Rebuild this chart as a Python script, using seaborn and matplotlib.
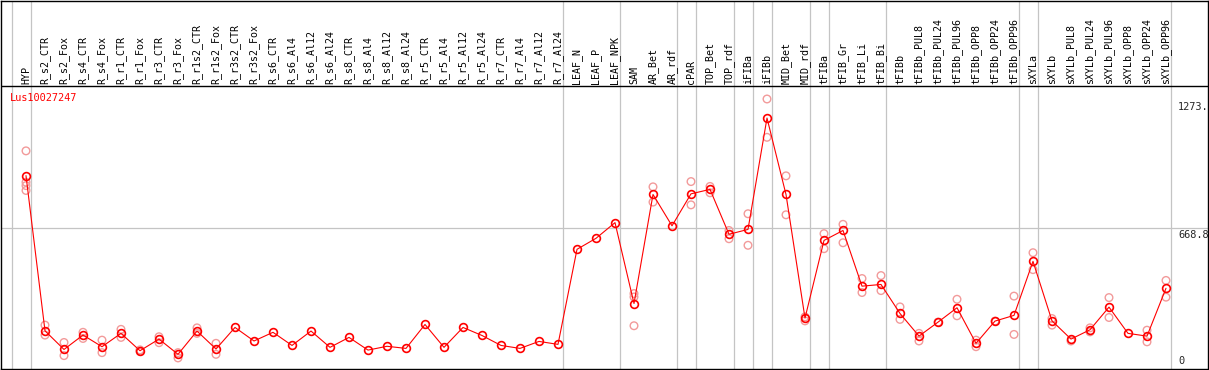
import numpy as np
import pandas as pd
import seaborn as sns
import matplotlib
matplotlib.use("Agg")
import matplotlib.pyplot as plt

# Образцы (подписи колонок)
samples = [
    "HYP", "R_s2_CTR", "R_s2_Fox", "R_s4_CTR", "R_s4_Fox", "R_r1_CTR", "R_r1_Fox",
    "R_r3_CTR", "R_r3_Fox", "R_r1s2_CTR", "R_r1s2_Fox", "R_r3s2_CTR", "R_r3s2_Fox",
    "R_s6_CTR", "R_s6_Al4", "R_s6_Al12", "R_s6_Al24", "R_s8_CTR", "R_s8_Al4",
    "R_s8_Al12", "R_s8_Al24", "R_r5_CTR", "R_r5_Al4", "R_r5_Al12", "R_r5_Al24",
    "R_r7_CTR", "R_r7_Al4", "R_r7_Al12", "R_r7_Al24", "LEAF_N", "LEAF_P", "LEAF_NPK",
    "SAM", "AR_Bet", "AR_rdf", "cPAR", "TOP_Bet", "TOP_rdf", "iFIBa", "iFIBb",
    "MID_Bet", "MID_rdf", "tFIBa", "tFIB_Gr", "tFIB_Li", "tFIB_Bi", "tFIBb",
    "tFIBb_PUL8", "tFIBb_PUL24", "tFIBb_PUL96", "tFIBb_OPP8", "tFIBb_OPP24", "tFIBb_OPP96",
    "sXYLa", "sXYLb", "sXYLb_PUL8", "sXYLb_PUL24", "sXYLb_PUL96", "sXYLb_OPP8",
    "sXYLb_OPP24", "sXYLb_OPP96",
]

# Средние значения экспрессии
means = [
    918, 185, 97, 165, 110, 173, 91, 146, 74, 184, 99, 201, 137, 178, 116,
    184, 107, 154, 94, 112, 102, 215, 107, 201, 163, 116, 102, 135, 121,
    570, 622, 696, 314, 829, 681, 832, 853, 641, 664, 1190, 829, 245,
    612, 659, 396, 404, 267, 160, 226, 294, 126, 231, 258,
    513, 232, 146, 190, 297, 173, 160, 386,
]

# Повторности (по образцу)
replicates = [
    [1035, 887, 871, 848], [212, 165], [130, 68], [178, 149], [141, 82], [192, 154],
    [95, 88], [157, 129], [82, 57], [199, 173], [126, 74], [], [], [], [], [], [], [],
    [], [], [], [], [], [], [], [], [], [], [], [], [], [],
    [361, 345, 209], [865, 793], [], [890, 780], [867, 837], [659, 620], [738, 589],
    [1280, 1099], [917, 733], [251, 232], [644, 573], [688, 601], [432, 366], [446, 375],
    [298, 239], [173, 137], [226], [334, 256], [141, 110], [231], [349, 168],
    [554, 474], [243, 212], [137], [199, 180], [342, 248], [], [188, 133], [423, 344],
]

# Индексы последних образцов в группах (вертикальные линии)
group_ends = [-1, 0, 28, 31, 34, 35, 37, 38, 39, 41, 42, 45, 52, 53, 60]

gene = "Lus10027247"
ytick_values = [1273, 668.8, 0]
ytick_labels = ["1273.", "668.8", "0"]

df = pd.DataFrame({"idx": np.arange(len(samples)), "value": means})
rep_x = [i for i, r in enumerate(replicates) for _ in r]
rep_y = [v for r in replicates for v in r]
df_rep = pd.DataFrame({"idx": rep_x, "value": rep_y})

sns.set_theme(style="white")
plt.rcParams["font.family"] = ["DejaVu Sans Mono", "DejaVu Sans"]

W, H = 1209, 370
fig = plt.figure(figsize=(W / 100, H / 100), dpi=100)
ax = fig.add_axes([1 / W, 1 / H, 1207 / W, 368 / H])

scale = 0.2123  # пикселей на единицу
ax.set_ylim((370 - 369) / scale, 370 / scale)
ax.set_xlim((1 - 26) / 19, (1208 - 26) / 19)

# Сетка
grid_c = "#c4c4c4"
for g in group_ends:
    ax.axvline(g + 0.24, color=grid_c, lw=0.9, zorder=0)
ax.axhline(668.8, color=grid_c, lw=0.9, zorder=0)
ax.axhline((370 - 85.5) / scale, color="black", lw=1.0, zorder=1)

# Повторности и средние
sns.scatterplot(data=df_rep, x="idx", y="value", marker="o", s=30,
                facecolor="none", edgecolor="#f29a9a", linewidth=1.0,
                ax=ax, zorder=2, legend=False)
sns.lineplot(data=df, x="idx", y="value", color="#ff0000", linewidth=0.8,
             marker="o", markersize=5.6, markerfacecolor="none",
             markeredgecolor="#ff0000", markeredgewidth=1.2, ax=ax, zorder=3)

# Подписи образцов
label_y = (370 - 83) / scale
for i, s in enumerate(samples):
    ax.text(i, label_y, s, rotation=90, ha="center", va="bottom",
            fontsize=7.2, color="black")

ax.text(-0.85, (370 - 97) / scale, gene, color="#ff0000", fontsize=7.4,
        ha="left", va="center")

# Подписи оси Y справа
xt = (1178 - 26) / 19
for v, lab in zip(ytick_values, ytick_labels):
    if v == 0:
        ax.text(xt, (370 - 366) / scale, lab, fontsize=7.4, ha="left", va="bottom")
    else:
        ax.text(xt, v - 2 / scale, lab, fontsize=7.4, ha="left", va="top")

ax.set_xticks([])
ax.set_yticks([])
ax.set_xlabel("")
ax.set_ylabel("")
for sp in ax.spines.values():
    sp.set_color("black")
    sp.set_linewidth(1.0)

fig.savefig("out.png", dpi=100)
